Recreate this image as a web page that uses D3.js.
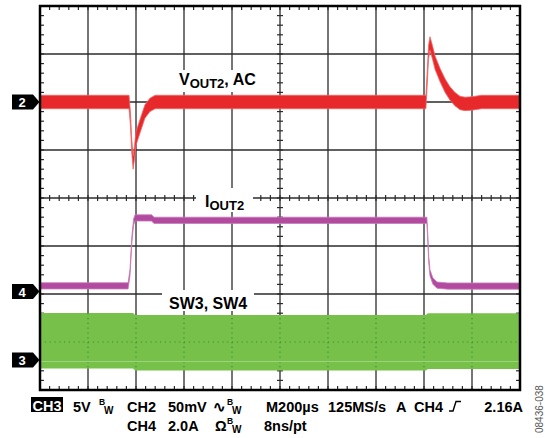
<!DOCTYPE html>
<html lang="en">
<head>
<meta charset="UTF-8">
<title>scope capture</title>
<script src="https://d3js.org/d3.v7.min.js"></script>
<style>
    body { margin: 0; background: #fff; }
    svg { display: block; }
    text { font-family: "Liberation Sans", Arial, Helvetica, sans-serif; font-weight: bold; }
</style>
</head>
<body>
<div class="canvas"></div>
<script>
    // time base: 10 div x 200us
    let t_domain = [0, 2000];
    let div_domain = [-4, 4];

    // CH2 = VOUT2 (AC), 50 mV/div, ground marker at +2 div
    let ch2_pos = 2, ch2_scale = 50;
    let ch2_time = [0, 371, 377, 382, 388, 394, 400, 417, 437, 458, 480, 1608, 1614, 1619, 1625, 1635, 1646, 1667, 1688, 1708, 1729, 1750, 1771, 1800, 1840, 2000];
    let ch2_mv = [0, 0, -18, -45, -63, -52, -38, -25, -10, -3, 0, 0, 28, 52, 61, 52, 41, 28, 17, 9, 3, -1, -2, -1.5, 0, 0];
    let ch2_noise = 7; // half width of noise band, mV

    // CH4 = IOUT2, 2 A/div
    let ch4_pos = -1.95, ch4_scale = 2;
    let ch4_time = [0, 367, 375, 383, 390, 396, 465, 475, 1612, 1616, 1620, 1625, 1637, 1654, 1700, 2000];
    let ch4_amp = [0.24, 0.24, 0.8, 2.2, 2.9, 3.07, 3.07, 2.97, 2.97, 2.2, 1.3, 0.78, 0.44, 0.27, 0.23, 0.23];
    let ch4_noise = 0.13;

    // CH3 = SW3, SW4 switch node, 5 V/div (envelope of the switching)
    let ch3_pos = -3.375, ch3_scale = 5;
    let ch3_time = [0, 388, 396, 1608, 1616, 2000];
    let ch3_top = [4.9, 4.9, 4.68, 4.68, 4.88, 4.88];
    let ch3_bottom = [-0.88, -0.88, -1.1, -1.1, -0.95, -0.95];

    let marker_names = ["2", "4", "3"];
    let marker_pos = [ch2_pos, ch4_pos, ch3_pos];

    // readout text
    let line1 = ["5V", "CH2", "50mV", "M200µs", "125MS/s", "A", "CH4", "2.16A"];
    let line2 = ["CH4", "2.0A", "8ns/pt"];

    let W = 545, H = 438;
    let canvas = d3.select(".canvas").append("svg")
        .attr("width", W).attr("height", H);

    let x_scale = d3.scaleLinear().domain(t_domain).range([40, 520]);
    let y_scale = d3.scaleLinear().domain(div_domain).range([390, 6]);

    // grid
    let grid_g = canvas.append("g").attr("class", "grid");
    let gx = d3.range(1, 10).map(d => t_domain[0] + d * 200);
    let gy = d3.range(-3, 4);
    function drawGrid(g, color, width, dash) {
        g.selectAll(".vx").data(gx).enter().append("line")
            .attr("x1", d => x_scale(d)).attr("x2", d => x_scale(d))
            .attr("y1", y_scale(4)).attr("y2", y_scale(-4))
            .attr("stroke", color).attr("stroke-width", width).attr("stroke-dasharray", dash);
        g.selectAll(".hy").data(gy).enter().append("line")
            .attr("y1", d => y_scale(d)).attr("y2", d => y_scale(d))
            .attr("x1", x_scale(0)).attr("x2", x_scale(2000))
            .attr("stroke", color).attr("stroke-width", width).attr("stroke-dasharray", dash);
    }
    drawGrid(grid_g, "#2b2b2b", 1.3, null);

    // minor ticks on frame edges and centre lines
    let minor_x = d3.range(0, 2001, 40);
    let minor_y = d3.range(-40, 41, 2).map(d => d / 10);
    let tick_g = canvas.append("g").attr("class", "ticks")
        .attr("stroke", "#2b2b2b").attr("stroke-width", 1.2);
    [[6, 10], [390, 386], [195, 201]].forEach(function (p) {
        tick_g.selectAll(null).data(minor_x).enter().append("line")
            .attr("x1", d => x_scale(d)).attr("x2", d => x_scale(d))
            .attr("y1", p[0]).attr("y2", p[1]);
    });
    [[40, 44], [520, 516], [277, 283]].forEach(function (p) {
        tick_g.selectAll(null).data(minor_y).enter().append("line")
            .attr("y1", d => y_scale(d)).attr("y2", d => y_scale(d))
            .attr("x1", p[0]).attr("x2", p[1]);
    });

    // trace labels with white knock-out boxes
    let label_g = canvas.append("g").attr("class", "labels");
    function traceLabel(x, y, main, sub, tail, box) {
        label_g.append("rect").attr("x", box[0]).attr("y", box[1])
            .attr("width", box[2]).attr("height", box[3]).attr("fill", "#fff");
        let t = label_g.append("text").attr("x", x).attr("y", y)
            .attr("font-size", 16).attr("fill", "#000");
        t.append("tspan").text(main);
        if (sub) t.append("tspan").attr("font-size", 13).attr("dy", 3).text(sub);
        if (tail) t.append("tspan").attr("dy", -3).text(tail);
    }
    traceLabel(179, 85, "V", "OUT2", ", AC", [172, 70, 90, 22]);
    traceLabel(205, 206.5, "I", "OUT2", null, [196, 188, 57, 24]);
    traceLabel(169, 309, "SW3, SW4", null, null, [162, 290, 92, 21]);

    // traces
    let trace_g = canvas.append("g").attr("class", "traces");

    // CH3 envelope
    let ch3_data = ch3_time.map((t, i) => ({ t: t, hi: ch3_top[i], lo: ch3_bottom[i] }));
    let ch3_area = d3.area()
        .x(d => x_scale(d.t))
        .y0(d => y_scale(ch3_pos + d.lo / ch3_scale))
        .y1(d => y_scale(ch3_pos + d.hi / ch3_scale));
    trace_g.append("path").datum(ch3_data)
        .attr("d", ch3_area).attr("fill", "#77c14a");
    canvas.append("clipPath").attr("id", "ch3clip")
        .append("path").datum(ch3_data).attr("d", ch3_area);
    let dots_g = trace_g.append("g").attr("clip-path", "url(#ch3clip)");
    drawGrid(dots_g, "#2f8f3a", 1.2, "1.2,3.6");
    dots_g.append("path").datum(ch3_data)
        .attr("d", d3.line().x(d => x_scale(d.t)).y(d => y_scale(ch3_pos) + 1.5))
        .attr("stroke", "#9bd47c").attr("stroke-width", 1.2).attr("fill", "none");

    // CH4 band
    let ch4_data = ch4_time.map((t, i) => ({ t: t, v: ch4_amp[i] }));
    trace_g.append("path").datum(ch4_data)
        .attr("d", d3.area()
            .x(d => x_scale(d.t))
            .y0(d => y_scale(ch4_pos + (d.v - ch4_noise) / ch4_scale))
            .y1(d => y_scale(ch4_pos + (d.v + ch4_noise) / ch4_scale)))
        .attr("fill", "#b24b9f").attr("stroke", "#c77bb8").attr("stroke-width", 0.8);

    // CH2 band
    let ch2_data = ch2_time.map((t, i) => ({ t: t, v: ch2_mv[i] }));
    trace_g.append("path").datum(ch2_data)
        .attr("d", d3.area()
            .x(d => x_scale(d.t))
            .y0(d => y_scale(ch2_pos + (d.v - ch2_noise) / ch2_scale))
            .y1(d => y_scale(ch2_pos + (d.v + ch2_noise) / ch2_scale)))
        .attr("fill", "#e8292c").attr("stroke", "#ef6a6a").attr("stroke-width", 0.8);

    // frame
    canvas.append("rect")
        .attr("x", x_scale(0)).attr("y", y_scale(4))
        .attr("width", x_scale(2000) - x_scale(0)).attr("height", y_scale(-4) - y_scale(4))
        .attr("fill", "none").attr("stroke", "#000").attr("stroke-width", 2.5);

    // channel ground markers
    let mk = canvas.selectAll(".marker").data(marker_names).enter().append("g")
        .attr("class", "marker")
        .attr("transform", (d, i) => "translate(0," + y_scale(marker_pos[i]) + ")");
    mk.append("path").attr("d", "M12,-7.5H33L39.5,0L33,7.5H12Z").attr("fill", "#000");
    mk.append("text").attr("x", 22).attr("y", 5).attr("text-anchor", "middle")
        .attr("font-size", 13).attr("fill", "#fff").text(d => d);

    // readout
    let ro = canvas.append("g").attr("class", "readout").attr("font-size", 14.5).attr("fill", "#000");
    ro.append("rect").attr("x", 31).attr("y", 397).attr("width", 32).attr("height", 15).attr("fill", "#000");
    ro.append("text").attr("x", 47).attr("y", 410.5).attr("text-anchor", "middle").attr("fill", "#fff").text("CH3");
    let x1 = [73, 127, 168, 266, 328, 396, 414, 523];
    ro.selectAll(".l1").data(line1).enter().append("text")
        .attr("x", (d, i) => x1[i]).attr("y", 411.5)
        .attr("text-anchor", (d, i) => i == line1.length - 1 ? "end" : "start")
        .text(d => d);
    let x2 = [127, 168, 264];
    ro.selectAll(".l2").data(line2).enter().append("text")
        .attr("x", (d, i) => x2[i]).attr("y", 430.5).text(d => d);
    // bandwidth-limit marks
    function bw(x, y) {
        ro.append("text").attr("x", x).attr("y", y - 7).attr("font-size", 8.5).text("B");
        ro.append("text").attr("x", x + 5).attr("y", y + 2).attr("font-size", 10).text("W");
    }
    bw(99, 411.5);
    bw(227, 411.5);
    bw(227, 430.5);
    ro.append("text").attr("x", 213).attr("y", 411.5).attr("font-family", "DejaVu Sans").text("∿");
    ro.append("text").attr("x", 215).attr("y", 430.5).text("Ω");
    // trigger edge symbol
    ro.append("path").attr("d", "M449,411H453L456,401.5H461")
        .attr("fill", "none").attr("stroke", "#000").attr("stroke-width", 1.4);

    // figure id
    canvas.append("text").attr("transform", "translate(543,433) rotate(-90)")
        .attr("font-size", 10).attr("fill", "#555")
        .style("font-weight", "normal").text("08436-038");
</script>
</body>
</html>
